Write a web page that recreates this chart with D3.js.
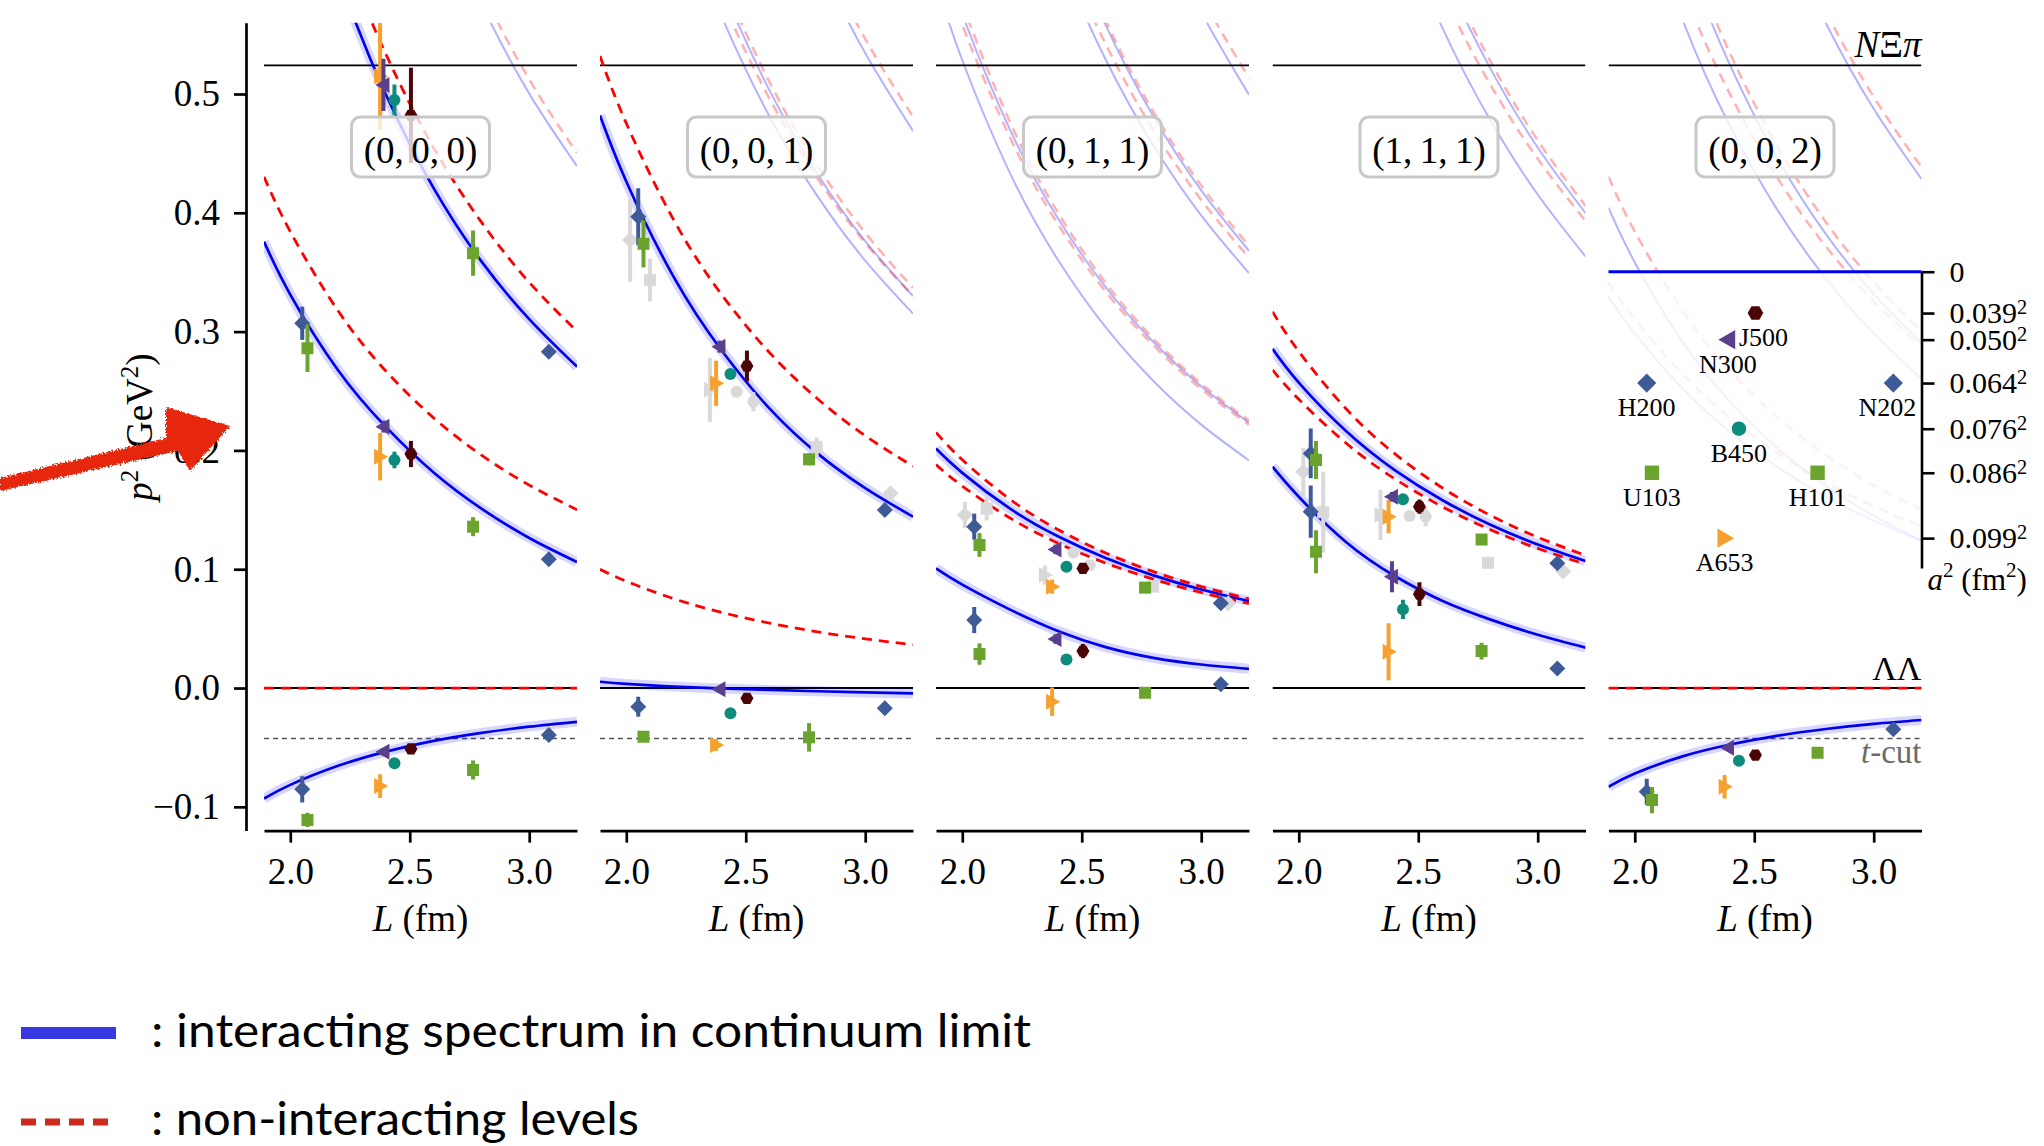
<!DOCTYPE html>
<html>
<head>
<meta charset="utf-8">
<script src="https://cdn.jsdelivr.net/npm/d3@7"></script>
<style>
  body { margin: 0; background: #fff; }
  svg { display: block; }
</style>
</head>
<body>
<svg id="chart" width="2044" height="1146"></svg>
<script>
// L grid (fm) on which every level curve is tabulated
const gridL = [1.89, 2.0, 2.2, 2.4, 2.6, 2.8, 3.0, 3.2]

// ensembles
const ensembleNames = ['H200', 'U103', 'A653', 'N300', 'B450', 'J500', 'H101', 'N202']
const ensembleL = [2.05, 2.072, 2.376, 2.39, 2.436, 2.505, 2.765, 3.082]
const ensembleA = [0.064, 0.086, 0.099, 0.05, 0.076, 0.039, 0.086, 0.064]

const frameLabels = ['(0,\u20090,\u20090)', '(0,\u20090,\u20091)', '(0,\u20091,\u20091)', '(1,\u20091,\u20091)', '(0,\u20090,\u20092)']
const yTicks = [-0.1, 0.0, 0.1, 0.2, 0.3, 0.4, 0.5]
const xTicks = [2.0, 2.5, 3.0]
const aTicks = [0, 0.039, 0.05, 0.064, 0.076, 0.086, 0.099]
const aTickLabels = ['0', '0.039', '0.050', '0.064', '0.076', '0.086', '0.099']

const thresholdNXiPi = 0.524
const thresholdLL = 0
const tCut = -0.0424
const zeroLevel = [0, 0, 0, 0, 0, 0, 0, 0]

// (0,0,0): non-interacting (free) and interacting (fit) levels, p^2 in GeV^2
const free000a = [0.4303, 0.3842, 0.3175, 0.2668, 0.2274, 0.1960, 0.1708, 0.1501]
const free000b = [0.8605, 0.7685, 0.6351, 0.5336, 0.4547, 0.3921, 0.3415, 0.3002]
const free000c = [1.2908, 1.1527, 0.9526, 0.8005, 0.6821, 0.5881, 0.5123, 0.4503]
const fit000a = [-0.0930, -0.0815, -0.0655, -0.0535, -0.0445, -0.0378, -0.0325, -0.0284]
const fit000b = [0.3757, 0.3312, 0.2675, 0.2198, 0.1814, 0.1510, 0.1263, 0.1061]
const fit000c = [0.8255, 0.7335, 0.6011, 0.4996, 0.4207, 0.3591, 0.3105, 0.2705]
const fit000d = [1.2788, 1.1407, 0.9406, 0.7885, 0.6701, 0.5761, 0.5003, 0.4393]

// (0,0,1)
const free001a = [0.0999, 0.0899, 0.0751, 0.0636, 0.0546, 0.0473, 0.0414, 0.0365]
const free001b = [0.5319, 0.4754, 0.3934, 0.3309, 0.2822, 0.2435, 0.2123, 0.1867]
const free001c = [0.9235, 0.8273, 0.6871, 0.5798, 0.4959, 0.4290, 0.3747, 0.3301]
const free001d = [0.9632, 0.8604, 0.7115, 0.5981, 0.5098, 0.4397, 0.3832, 0.3369]
const free001e = [1.3608, 1.2170, 1.0083, 0.8492, 0.7250, 0.6262, 0.5464, 0.4809]
const fit001a = [0.0053, 0.0035, 0.0012, -0.0004, -0.0016, -0.0027, -0.0037, -0.0045]
const fit001b = [0.4819, 0.4264, 0.3454, 0.2839, 0.2352, 0.1975, 0.1683, 0.1442]
const fit001c = [0.9085, 0.8123, 0.6721, 0.5648, 0.4809, 0.4140, 0.3597, 0.3151]
const fit001d = [0.9562, 0.8534, 0.7045, 0.5911, 0.5028, 0.4327, 0.3762, 0.3299]
const fit001e = [1.3488, 1.2050, 0.9963, 0.8372, 0.7130, 0.6142, 0.5344, 0.4689]

// (0,1,1)
const free011a = [0.1881, 0.1700, 0.1431, 0.1220, 0.1052, 0.0916, 0.0804, 0.0712]
const free011b = [0.2151, 0.1921, 0.1588, 0.1334, 0.1137, 0.0980, 0.0854, 0.0750]
const free011c = [0.6238, 0.5584, 0.4632, 0.3905, 0.3337, 0.2884, 0.2517, 0.2216]
const free011d = [0.6454, 0.5763, 0.4763, 0.4002, 0.3410, 0.2940, 0.2562, 0.2251]
const free011e = [1.0023, 0.8990, 0.7483, 0.6327, 0.5420, 0.4696, 0.4108, 0.3623]
const free011f = [1.0577, 0.9455, 0.7826, 0.6586, 0.5619, 0.4850, 0.4229, 0.3720]
const free011g = [1.4435, 1.2919, 1.0717, 0.9035, 0.7721, 0.6676, 0.5829, 0.5134]
const fit011a = [0.1007, 0.0870, 0.0660, 0.0480, 0.0344, 0.0254, 0.0198, 0.0162]
const fit011b = [0.2016, 0.1811, 0.1510, 0.1277, 0.1095, 0.0948, 0.0829, 0.0731]
const fit011c = [0.5938, 0.5284, 0.4332, 0.3605, 0.3037, 0.2584, 0.2217, 0.1916]
const fit011d = [0.6346, 0.5674, 0.4698, 0.3954, 0.3374, 0.2912, 0.2540, 0.2234]
const fit011e = [0.9893, 0.8860, 0.7353, 0.6197, 0.5290, 0.4566, 0.3978, 0.3493]
const fit011f = [1.0537, 0.9415, 0.7786, 0.6546, 0.5579, 0.4810, 0.4189, 0.3680]
const fit011g = [1.4295, 1.2779, 1.0577, 0.8895, 0.7581, 0.6536, 0.5689, 0.4994]

// (1,1,1)
const free111a = [0.2678, 0.2430, 0.2058, 0.1763, 0.1527, 0.1334, 0.1175, 0.1043]
const free111b = [0.3168, 0.2833, 0.2346, 0.1975, 0.1686, 0.1455, 0.1269, 0.1117]
const free111c = [1.0763, 0.9666, 0.8062, 0.6830, 0.5861, 0.5085, 0.4454, 0.3933]
const free111d = [1.1457, 1.0249, 0.8496, 0.7157, 0.6113, 0.5282, 0.4610, 0.4058]
const fit111a = [0.1863, 0.1610, 0.1225, 0.0945, 0.0735, 0.0578, 0.0448, 0.0340]
const fit111b = [0.2855, 0.2571, 0.2159, 0.1837, 0.1583, 0.1376, 0.1208, 0.1069]
const fit111c = [1.0463, 0.9366, 0.7762, 0.6530, 0.5561, 0.4785, 0.4154, 0.3633]
const fit111d = [1.1397, 1.0189, 0.8436, 0.7097, 0.6053, 0.5222, 0.4550, 0.3998]

// (0,0,2)
const free002a = [0.3412, 0.3105, 0.2641, 0.2273, 0.1975, 0.1731, 0.1529, 0.1359]
const free002b = [0.4303, 0.3842, 0.3175, 0.2668, 0.2274, 0.1960, 0.1708, 0.1501]
const free002c = [0.7872, 0.7069, 0.5895, 0.4993, 0.4284, 0.3716, 0.3254, 0.2873]
const free002d = [0.8605, 0.7685, 0.6351, 0.5336, 0.4547, 0.3921, 0.3415, 0.3002]
const free002e = [1.2283, 1.0998, 0.9129, 0.7701, 0.6585, 0.5696, 0.4975, 0.4384]
const fit002a = [-0.0831, -0.0720, -0.0575, -0.0475, -0.0400, -0.0345, -0.0302, -0.0269]
const fit002b = [0.3292, 0.2985, 0.2521, 0.2153, 0.1855, 0.1611, 0.1409, 0.1239]
const fit002c = [0.4043, 0.3582, 0.2915, 0.2408, 0.2014, 0.1700, 0.1448, 0.1241]
const fit002d = [0.7602, 0.6799, 0.5625, 0.4723, 0.4014, 0.3446, 0.2984, 0.2603]
const fit002e = [0.8505, 0.7585, 0.6251, 0.5236, 0.4447, 0.3821, 0.3315, 0.2902]
const fit002f = [1.2183, 1.0898, 0.9029, 0.7601, 0.6485, 0.5596, 0.4875, 0.4284]

// lattice energy levels per ensemble (order of ensembleNames), p^2 and error
const pts000a = [-0.0853, -0.111, -0.0825, -0.0536, -0.0634, -0.0513, -0.069, -0.0396]
const err000a = [0.011, 0.006, 0.010, 0.003, 0.003, 0.003, 0.008, 0.003]
const pts000b = [0.307, 0.286, 0.1947, 0.220, 0.192, 0.197, 0.1358, 0.1083]
const err000b = [0.014, 0.020, 0.020, 0.005, 0.007, 0.011, 0.008, 0.003]
const pts000c = [null, null, 0.515, 0.5076, 0.495, 0.482, 0.366, 0.283]
const err000c = [0, 0, 0.045, 0.022, 0.013, 0.04, 0.019, 0.004]

const pts001a = [-0.0157, -0.041, -0.048, -0.001, -0.0213, -0.0087, -0.0415, -0.0171]
const err001a = [0.0084, 0.004, 0.005, 0.002, 0.003, 0.003, 0.012, 0.003]
const pts001b = [0.3967, 0.374, 0.2565, 0.2873, 0.2643, 0.271, 0.1925, 0.1498]
const err001b = [0.024, 0.020, 0.019, 0.005, 0.004, 0.013, 0.005, 0.003]

const pts011a = [0.0572, 0.0286, -0.0115, 0.0412, 0.0241, 0.0311, -0.004, 0.0031]
const err011a = [0.011, 0.009, 0.012, 0.004, 0.003, 0.006, 0.003, 0.003]
const pts011b = [0.1358, 0.1204, 0.0853, 0.1167, 0.1021, 0.1007, 0.0845, 0.0713]
const err011b = [0.011, 0.010, 0.006, 0.004, 0.003, 0.004, 0.004, 0.003]

const pts111a = [0.1484, 0.1147, 0.0306, 0.0937, 0.0662, 0.0791, 0.0311, 0.0165]
const err111a = [0.022, 0.018, 0.024, 0.013, 0.008, 0.010, 0.007, 0.003]
const pts111b = [0.1975, 0.192, 0.1442, 0.161, 0.1588, 0.1526, 0.1251, 0.105]
const err111b = [0.021, 0.016, 0.014, 0.004, 0.004, 0.006, 0.004, 0.003]

const pts002a = [-0.0873, -0.0943, -0.0831, -0.0502, -0.0612, -0.0564, -0.0544, -0.0348]
const err002a = [0.011, 0.011, 0.0098, 0.002, 0.003, 0.003, 0.003, 0.003]

// grey (alternative) levels: [L, p^2, error]; ensemble of each entry
const greyEnsembles = ['H200', 'U103', 'A653', 'B450', 'J500', 'H101', 'N202']
const grey001 = [[2.016, 0.377, 0.035], [2.099, 0.3434, 0.018], [2.35, 0.251, 0.027], [2.462, 0.2494, 0.004], [2.532, 0.241, 0.008], [2.797, 0.203, 0.008], [3.106, 0.164, 0.003]]
const grey011 = [[2.011, 0.1456, 0.011], [2.102, 0.151, 0.01], [2.346, 0.0951, 0.008], [2.465, 0.1139, 0.003], [2.534, 0.1035, 0.004], [2.799, 0.0853, 0.003], [3.113, 0.0713, 0.003]]
const grey111 = [[2.019, 0.182, 0.02], [2.102, 0.148, 0.034], [2.342, 0.1456, 0.021], [2.464, 0.1448, 0.003], [2.531, 0.1442, 0.008], [2.792, 0.1055, 0.003], [3.107, 0.098, 0.003]]

const panels = [
  { free: [zeroLevel, free000a, free000b], freeFaded: [free000c], fit: [fit000a, fit000b, fit000c], fitFaded: [fit000d],
    pts: [pts000a, pts000b, pts000c], errs: [err000a, err000b, err000c], grey: [] },
  { free: [free001a, free001b], freeFaded: [free001c, free001d, free001e], fit: [fit001a, fit001b], fitFaded: [fit001c, fit001d, fit001e],
    pts: [pts001a, pts001b], errs: [err001a, err001b], grey: grey001 },
  { free: [free011a, free011b], freeFaded: [free011c, free011d, free011e, free011f, free011g], fit: [fit011a, fit011b], fitFaded: [fit011c, fit011d, fit011e, fit011f, fit011g],
    pts: [pts011a, pts011b], errs: [err011a, err011b], grey: grey011 },
  { free: [free111a, free111b], freeFaded: [free111c, free111d], fit: [fit111a, fit111b], fitFaded: [fit111c, fit111d],
    pts: [pts111a, pts111b], errs: [err111a, err111b], grey: grey111 },
  { free: [zeroLevel], freeFaded: [free002a, free002b, free002c, free002d, free002e], fit: [fit002a], fitFaded: [fit002b, fit002c, fit002d, fit002e, fit002f],
    pts: [pts002a], errs: [err002a], grey: [], inset: true }
]

// ---- drawing ----
const svg = d3.select('#chart')
const serif = "'Liberation Serif', 'Times New Roman', serif"
const W = 313
const yTop = 22.7
const yBot = 830.6
const panelX = [264, 600, 936, 1272.5, 1608.5]
const y = d3.scaleLinear().domain([-0.12, 0.56]).range([yBot, yTop])
const yInset = d3.scaleLinear().domain([0, 0.0109]).range([271.7, 568])

const color = {
  H200: '#3e5a97', N202: '#3e5a97', U103: '#6aa32d', H101: '#6aa32d',
  A653: '#f6a02d', N300: '#5a3f8c', B450: '#0d8c7c', J500: '#4b0505'
}
const shape = {
  H200: 'diamond', N202: 'diamond', U103: 'square', H101: 'square',
  A653: 'triR', N300: 'triL', B450: 'circle', J500: 'hex'
}
const radius = { diamond: 8, square: 6, circle: 6, triR: 8, triL: 8, hex: 6.5 }
// inset name labels sit under their marker; two are nudged sideways
const labelDx = { J500: 8, N202: -6 }

function shapePath(kind, r) {
  const p = d3.path()
  if (kind === 'diamond') {
    p.moveTo(0, -r); p.lineTo(r, 0); p.lineTo(0, r); p.lineTo(-r, 0); p.closePath()
  } else if (kind === 'square') {
    p.rect(-r, -r, 2 * r, 2 * r)
  } else if (kind === 'circle') {
    p.arc(0, 0, r, 0, 2 * Math.PI)
  } else if (kind === 'triR') {
    p.moveTo(r, 0); p.lineTo(-r * 0.75, -r); p.lineTo(-r * 0.75, r); p.closePath()
  } else if (kind === 'triL') {
    p.moveTo(-r, 0); p.lineTo(r * 0.75, -r); p.lineTo(r * 0.75, r); p.closePath()
  } else {
    for (let k = 0; k < 6; k++) {
      const t = k * Math.PI / 3
      if (k === 0) p.moveTo(r * Math.cos(t), r * Math.sin(t))
      else p.lineTo(r * Math.cos(t), r * Math.sin(t))
    }
    p.closePath()
  }
  return p.toString()
}

function drawPoint(g, px, py, pyLo, pyHi, kind, fill, scale = 1) {
  if (pyLo !== null) {
    g.append('line').attr('x1', px).attr('x2', px).attr('y1', pyLo).attr('y2', pyHi)
      .attr('stroke', fill).attr('stroke-width', 4)
  }
  g.append('path').attr('d', shapePath(kind, radius[kind] * scale))
    .attr('transform', `translate(${px},${py})`).attr('fill', fill)
}

const defs = svg.append('defs')
const rough = defs.append('filter').attr('id', 'rough')
rough.append('feTurbulence').attr('type', 'fractalNoise').attr('baseFrequency', 0.6).attr('numOctaves', 2).attr('result', 'n')
rough.append('feDisplacementMap').attr('in', 'SourceGraphic').attr('in2', 'n').attr('scale', 5)

panels.forEach((p, i) => {
  const x0 = panelX[i]
  const x = d3.scaleLinear().domain([1.89, 3.2]).range([x0, x0 + W])
  defs.append('clipPath').attr('id', `clip${i}`).append('rect')
    .attr('x', x0).attr('y', yTop).attr('width', W).attr('height', yBot - yTop)
  const plot = svg.append('g').attr('clip-path', `url(#clip${i})`)
  const line = d3.line().x((d, j) => x(gridL[j])).y(d => y(d)).curve(d3.curveNatural)

  // faded higher levels
  p.fitFaded.forEach(c => plot.append('path').attr('d', line(c)).attr('fill', 'none')
    .attr('stroke', '#0000ff').attr('stroke-opacity', 0.3).attr('stroke-width', 2))
  p.freeFaded.forEach(c => plot.append('path').attr('d', line(c)).attr('fill', 'none')
    .attr('stroke', '#ff0000').attr('stroke-opacity', 0.3).attr('stroke-width', 2.6)
    .attr('stroke-dasharray', '10,7'))

  if (p.inset) {
    plot.append('rect').attr('x', x0).attr('y', yInset(0)).attr('width', W)
      .attr('height', yInset(0.0109) - yInset(0)).attr('fill', '#fff').attr('fill-opacity', 0.8)
  }

  // thresholds
  const hline = (v, stroke, sw, dash) => plot.append('line')
    .attr('x1', x0).attr('x2', x0 + W).attr('y1', y(v)).attr('y2', y(v))
    .attr('stroke', stroke).attr('stroke-width', sw).attr('stroke-dasharray', dash || null)
  hline(thresholdNXiPi, '#000', 1.7)
  hline(thresholdLL, '#000', 2)
  hline(tCut, '#555', 1.5, '5,4')

  // interacting spectrum (band + line)
  p.fit.forEach(c => {
    plot.append('path').attr('d', line(c)).attr('fill', 'none')
      .attr('stroke', '#0000ff').attr('stroke-opacity', 0.16).attr('stroke-width', 10)
    plot.append('path').attr('d', line(c)).attr('fill', 'none')
      .attr('stroke', '#0000ee').attr('stroke-width', 2.7)
  })
  // non-interacting levels
  p.free.forEach(c => plot.append('path').attr('d', line(c)).attr('fill', 'none')
    .attr('stroke', '#ff0000').attr('stroke-width', 2.8).attr('stroke-dasharray', '10,7'))

  // grey points
  p.grey.forEach((d, k) => {
    drawPoint(plot, x(d[0]), y(d[1]), y(d[1] - d[2]), y(d[1] + d[2]), shape[greyEnsembles[k]], '#d9d9d9')
  })
  // coloured points
  p.pts.forEach((lev, li) => {
    lev.forEach((v, k) => {
      if (v === null) return
      const e = p.errs[li][k]
      const name = ensembleNames[k]
      drawPoint(plot, x(ensembleL[k]), y(v), y(v - e), y(v + e), shape[name], color[name])
    })
  })

  // inset: ensembles in (L, a^2)
  if (p.inset) {
    const ig = svg.append('g')
    ig.append('line').attr('x1', x0).attr('x2', x0 + W).attr('y1', yInset(0)).attr('y2', yInset(0))
      .attr('stroke', '#0000ee').attr('stroke-width', 3)
    ensembleNames.forEach((name, k) => {
      const px = x(ensembleL[k])
      const py = yInset(ensembleA[k] * ensembleA[k])
      drawPoint(ig, px, py, null, null, shape[name], color[name], 1.2)
      ig.append('text').attr('x', px + (labelDx[name] || 0)).attr('y', py + 33).attr('text-anchor', 'middle')
        .attr('font-family', serif).attr('font-size', 26).text(name)
    })
    const ax = ig.append('g').attr('transform', `translate(${x0 + W},0)`)
      .call(d3.axisRight(yInset).tickValues(aTicks.map(a => a * a)).tickSize(13).tickPadding(15).tickSizeOuter(0))
    ax.attr('font-family', serif).attr('font-size', 30)
    ax.selectAll('path, line').attr('stroke', '#000').attr('stroke-width', 2.6)
    ax.selectAll('.tick text').attr('fill', '#000').each(function (d, k) {
      const t = d3.select(this)
      t.text(null)
      t.append('tspan').text(aTickLabels[k])
      if (k > 0) t.append('tspan').attr('dy', '-0.45em').attr('font-size', '0.68em').text('2')
    })
    const al = ig.append('text').attr('x', x0 + W + 6).attr('y', 590)
      .attr('font-family', serif).attr('font-size', 31)
    al.append('tspan').attr('font-style', 'italic').text('a')
    al.append('tspan').attr('dy', -13).attr('font-size', 21).text('2')
    al.append('tspan').attr('dy', 13).text(' (fm')
    al.append('tspan').attr('dy', -13).attr('font-size', 21).text('2')
    al.append('tspan').attr('dy', 13).text(')')

    // threshold labels
    const nl = svg.append('text').attr('x', x0 + W).attr('y', 57).attr('text-anchor', 'end')
      .attr('font-family', serif).attr('font-size', 37)
    nl.append('tspan').attr('font-style', 'italic').text('N')
    nl.append('tspan').text('\u039E')
    nl.append('tspan').attr('font-style', 'italic').text('\u03C0')
    svg.append('text').attr('x', x0 + W).attr('y', 680).attr('text-anchor', 'end')
      .attr('font-family', serif).attr('font-size', 34).text('\u039B\u039B')
    const tl = svg.append('text').attr('x', x0 + W).attr('y', 763).attr('text-anchor', 'end')
      .attr('font-family', serif).attr('font-size', 33).attr('fill', '#6b6b6b')
    tl.append('tspan').attr('font-style', 'italic').text('t')
    tl.append('tspan').text('-cut')
  }

  // frame label box
  const cx = x0 + W / 2
  svg.append('rect').attr('x', cx - 69).attr('y', 117).attr('width', 138).attr('height', 60)
    .attr('rx', 9).attr('fill', '#fff').attr('fill-opacity', 0.78)
    .attr('stroke', '#c8c8c8').attr('stroke-width', 3)
  svg.append('text').attr('x', cx).attr('y', 163).attr('text-anchor', 'middle')
    .attr('font-family', serif).attr('font-size', 37).text(frameLabels[i])

  // x axis
  const xa = svg.append('g').attr('transform', `translate(0,${yBot})`)
    .call(d3.axisBottom(x).tickValues(xTicks).tickFormat(d3.format('.1f')).tickSize(12).tickPadding(15).tickSizeOuter(0))
  xa.attr('font-family', serif).attr('font-size', 37)
  xa.selectAll('path, line').attr('stroke', '#000').attr('stroke-width', 2.7)
  xa.selectAll('text').attr('fill', '#000')
  const xl = svg.append('text').attr('x', cx).attr('y', 931).attr('text-anchor', 'middle')
    .attr('font-family', serif).attr('font-size', 37)
  xl.append('tspan').attr('font-style', 'italic').text('L')
  xl.append('tspan').text(' (fm)')
})

// y axis (detached spine)
const ya = svg.append('g').attr('transform', 'translate(246,0)')
  .call(d3.axisLeft(y).tickValues(yTicks).tickFormat(d3.format('.1f')).tickSize(12).tickPadding(14).tickSizeOuter(0))
ya.attr('font-family', serif).attr('font-size', 37)
ya.selectAll('path, line').attr('stroke', '#000').attr('stroke-width', 2.7)
ya.selectAll('text').attr('fill', '#000')
const yl = svg.append('text').attr('transform', 'translate(152,427) rotate(-90)')
  .attr('text-anchor', 'middle').attr('font-family', serif).attr('font-size', 37)
yl.append('tspan').attr('font-style', 'italic').text('p')
yl.append('tspan').attr('dy', -14).attr('font-size', 25).text('2')
yl.append('tspan').attr('dy', 14).text(' (GeV')
yl.append('tspan').attr('dy', -14).attr('font-size', 25).text('2')
yl.append('tspan').attr('dy', 14).text(')')

// legend
const sans = "Lato, 'Open Sans', sans-serif"
svg.append('rect').attr('x', 21).attr('y', 1027).attr('width', 95).attr('height', 12).attr('fill', '#3838e0')
svg.append('text').attr('x', 151).attr('y', 1047).attr('font-family', sans).attr('font-size', 46)
  .attr('textLength', 880).attr('lengthAdjust', 'spacingAndGlyphs')
  .text(': interacting spectrum in continuum limit')
svg.append('line').attr('x1', 21).attr('x2', 110).attr('y1', 1122).attr('y2', 1122)
  .attr('stroke', '#cc2a1a').attr('stroke-width', 7).attr('stroke-dasharray', '15,9')
svg.append('text').attr('x', 151).attr('y', 1135).attr('font-family', sans).attr('font-size', 46)
  .attr('textLength', 488).attr('lengthAdjust', 'spacingAndGlyphs')
  .text(': non-interacting levels')

// hand-drawn red arrow
svg.append('path')
  .attr('d', 'M0,478 L166,438 L166,407 L230,426 L190,471 L178,451 L0,491 Z')
  .attr('fill', '#e6280f').attr('filter', 'url(#rough)')
</script>
</body>
</html>
